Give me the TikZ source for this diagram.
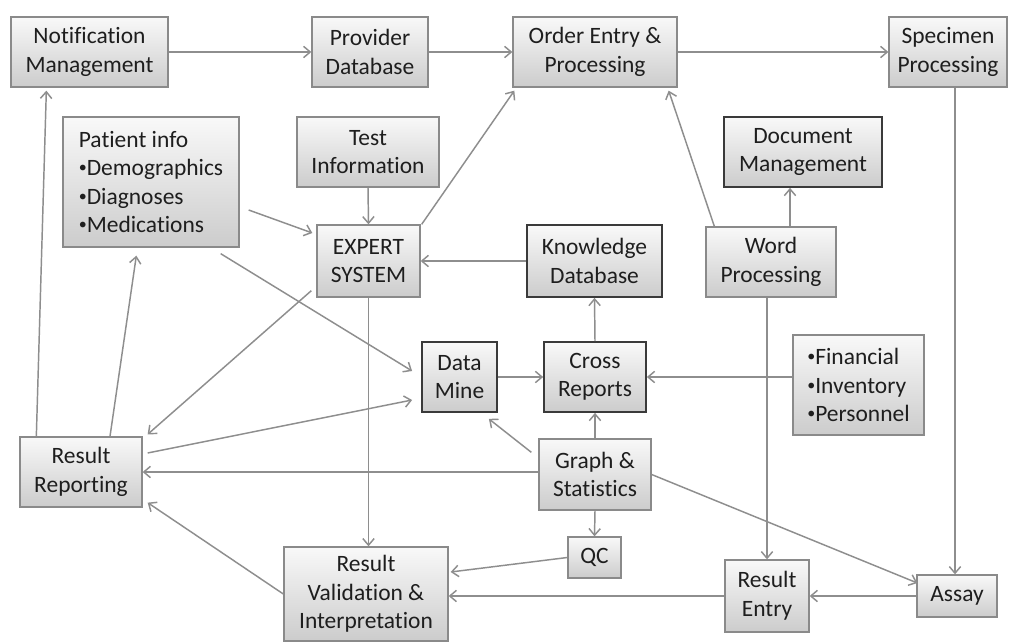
\documentclass[tikz,border=0pt]{standalone}
\usepackage{fontspec}
\setmainfont{Carlito}[Ligatures=NoCommon]
\usetikzlibrary{arrows.meta,calc}
\definecolor{edgegray}{HTML}{8E8E8E}
\definecolor{boxline}{HTML}{8A8A8A}
\definecolor{darkline}{HTML}{3A3A3A}
\definecolor{inkgray}{HTML}{1E1E1E}
% small list bullet
\newcommand\itemdot{\raisebox{0.12em}{\fontsize{12}{12}\selectfont•}}
\begin{document}
\begin{tikzpicture}[x=0.75pt,y=-0.75pt,
  box/.style={draw=boxline, line width=1pt, rectangle, top color=gray!5, bottom color=gray!40,
    align=center, inner sep=0pt, text=inkgray, font=\fontsize{17.6}{21.4}\selectfont},
  strong/.style={draw=darkline, line width=1.3pt},
  sz/.style 2 args={minimum width=#1*0.75pt, minimum height=#2*0.75pt},
  link/.style={draw=edgegray, line width=1.1pt, -{Straight Barb[length=5pt,width=8.5pt]}}]

% canvas
\fill[white] (0,0) rectangle (1009,642);
\useasboundingbox (0,0) rectangle (1009,642);

% boxes
\node[box,sz={157}{70}] (notif) at (89.5,52) {Notification\\Management};
\node[box,sz={116}{70}] (prov) at (370,52) {Provider\\Database};
\node[box,sz={164}{70}] (order) at (595,52) {Order Entry \&\\Processing};
\node[box,sz={118}{70}] (spec) at (948,52) {Specimen\\Processing};
\node[box,sz={176}{130},align=left] (patient) at (151,182) {Patient info\\\itemdot Demographics\\\itemdot Diagnoses\\\itemdot Medications};
\node[box,sz={142}{70}] (test) at (368,152) {Test\\Information};
\node[box,strong,sz={158}{70}] (doc) at (803,152) {Document\\Management};
\node[box,sz={130}{70}] (word) at (771,262) {Word\\Processing};
\node[box,sz={103}{72}] (expert) at (368.5,261) {EXPERT\\SYSTEM};
\node[box,strong,sz={135}{72}] (know) at (594.5,261) {Knowledge\\Database};
\node[box,strong,sz={75}{70}] (mine) at (459.5,377) {Data\\Mine};
\node[box,strong,sz={102}{70}] (cross) at (595,377) {Cross\\Reports};
\node[box,sz={131}{100},align=left] (fin) at (858.5,385) {\itemdot Financial\\\itemdot Inventory\\\itemdot Personnel};
\node[box,sz={122}{70}] (rrep) at (81,472) {Result\\Reporting};
\node[box,sz={164}{94}] (rval) at (366,594) {Result\\Validation \&\\Interpretation};
\node[box,sz={112}{71}] (graph) at (595,474.5) {Graph \&\\Statistics};
\node[box,sz={53}{41}] (qc) at (594.5,557.5) {QC};
\node[box,sz={84}{72}] (rent) at (767,596) {Result\\Entry};
\node[box,sz={80}{42}] (assay) at (957,596) {Assay};

% top row flow
\draw[link] (notif.east) -- (prov.west);
\draw[link] (prov.east) -- (order.west);
\draw[link] (order.east) -- (spec.west);
\draw[link] ($(spec.south -| assay.north)+(-2,0)$) -- ($(assay.north)+(-2,0)$);

% expert system inputs and outputs
\draw[link] (test.south) -- (expert.north);
\draw[link] ($(patient.east)+(9,28)$) -- ($(expert.west)+(-4,-28)$);
\draw[link] ($(expert.north east)+(1,0)$) -- ($(order.south west)+(2,3)$);
\draw[link] (know.west) -- (expert.east);
\draw[link] ($(expert.south west)+(-5,-7)$) -- ($(rrep.north east)+(5,-2)$);
\draw[link] (expert.south) -- (expert.south |- rval.north);

% word processing
\draw[link] ($(word.north west)+(9,0)$) -- ($(order.south east)+(-9,3)$);
\draw[link] ($(word.north)+(19,0)$) -- ($(doc.south)+(-13,0)$);
\draw[link] (word.south -| rent.north) -- (rent.north);

% data mining and reports
\draw[link] ($(patient.south east)+(-19,6)$) -- ($(mine.west)+(-9,-6)$);
\draw[link] ($(rrep.east)+(5,-19)$) -- ($(mine.west)+(-9,23)$);
\draw[link] (mine.east) -- (cross.west);
\draw[link] (cross.north) -- (know.south);
\draw[link] (fin.west |- cross.east) -- (cross.east);

% graph & statistics
\draw[link] (graph.north) -- (cross.south);
\draw[link] ($(graph.north west)+(-7,14)$) -- ($(mine.south east)+(-9,6)$);
\draw[link] (graph.west |- rrep.east) -- (rrep.east);
\draw[link] (graph.south) -- (qc.north);
\draw[link] (graph.east) -- ($(assay.west)+(1,-13)$);

% results
\draw[link] (qc.west) -- ($(rval.east)+(2,-22)$);
\draw[link] (rent.west) -- (rent.west -| rval.east);
\draw[link] (assay.west) -- (rent.east);
\draw[link] (rval.west) -- ($(rrep.south east)+(5,-5)$);
\draw[link] ($(rrep.north west)+(17,0)$) -- ($(notif.south west)+(36,3)$);
\draw[link] ($(rrep.north)+(29,0)$) -- ($(patient.south west)+(74,8)$);
\end{tikzpicture}
\end{document}
